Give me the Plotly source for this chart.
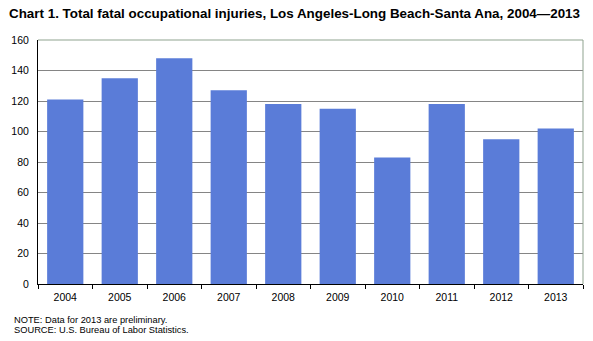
import plotly.graph_objects as go

years = ["2004", "2005", "2006", "2007", "2008", "2009", "2010", "2011", "2012", "2013"]
fatal_injuries = [121, 135, 148, 127, 118, 115, 83, 118, 95, 102]

title_text = "Chart 1. Total fatal occupational injuries, Los Angeles-Long Beach-Santa Ana, 2004\u20142013"
note_text = "NOTE: Data for 2013 are preliminary."
source_text = "SOURCE: U.S. Bureau of Labor Statistics."

FONT = "Liberation Sans, Arial, sans-serif"

fig = go.Figure()
fig.add_trace(go.Bar(
    x=years, y=fatal_injuries,
    marker=dict(color="#5A7CD8", line=dict(width=0)),
    hoverinfo="x+y",
))

fig.update_layout(
    width=593, height=341,
    margin=dict(l=37.5, r=10, t=40, b=57),
    paper_bgcolor="white", plot_bgcolor="white",
    bargap=0.335,
    showlegend=False,
    font=dict(family=FONT, size=10, color="black"),
    xaxis=dict(
        type="category",
        showline=True, linecolor="black", linewidth=1,
        ticks="outside", tickson="boundaries", ticklen=4, tickcolor="black", tickwidth=1,
        ticklabelstandoff=3,
        tickfont=dict(size=10.5, family=FONT, color="black"),
        showgrid=False, mirror=False,
    ),
    yaxis=dict(
        range=[0, 160], dtick=20,
        showline=True, linecolor="black", linewidth=1,
        showgrid=True, gridcolor="#858585", gridwidth=1,
        zeroline=False,
        ticks="", ticklabelstandoff=6,
        tickfont=dict(size=10.5, family=FONT, color="black"),
    ),
    shapes=[
        dict(type="line", xref="paper", yref="paper", x0=0, x1=1, y0=1, y1=1,
             line=dict(color="#8FA38F", width=1)),
        dict(type="line", xref="paper", yref="paper", x0=1, x1=1, y0=0, y1=1,
             line=dict(color="#8FA38F", width=1)),
    ],
    annotations=[
        dict(text="<b>" + title_text + "</b>", xref="paper", yref="paper",
             x=-0.056, y=1, yshift=27, xanchor="left", yanchor="middle",
             showarrow=False, font=dict(size=13.4, family=FONT, color="#000000")),
        dict(text=note_text, xref="paper", yref="paper",
             x=-0.047, y=0, yshift=-36, xanchor="left", yanchor="middle",
             showarrow=False, font=dict(size=9.3, family=FONT, color="black")),
        dict(text=source_text, xref="paper", yref="paper",
             x=-0.047, y=0, yshift=-46, xanchor="left", yanchor="middle",
             showarrow=False, font=dict(size=9.3, family=FONT, color="black")),
    ],
)

fig.write_html("out.html")
